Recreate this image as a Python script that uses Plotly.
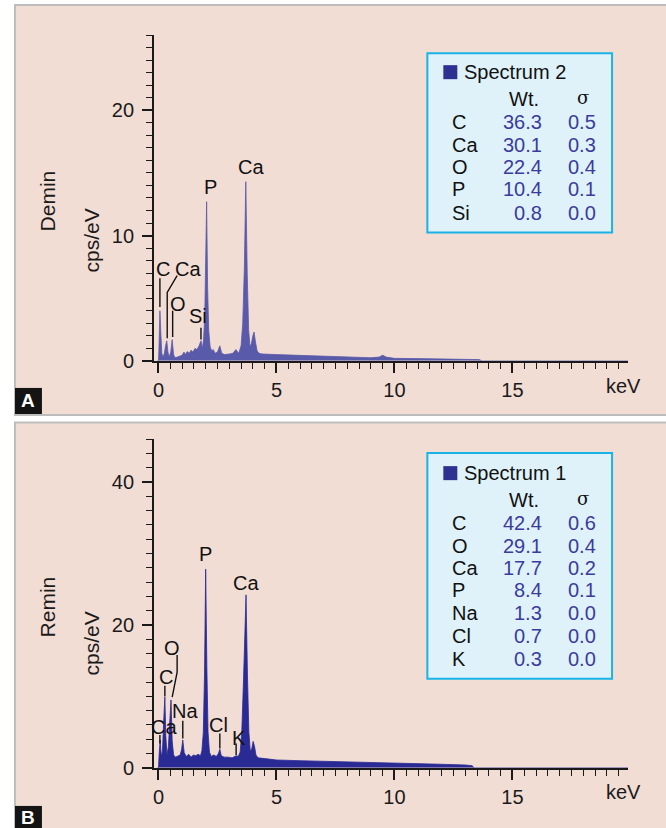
import plotly.graph_objects as go

W, H = 666, 828          # design frame (reference pixels)
FIG_H = 841              # rendered height; the capture is ~841 px tall and scaled to 828

# ---------------- data ----------------
# Panel A (Demin): energy (keV) and intensity (cps/eV)
energy_a = [-0.05, 0.00, 0.02, 0.06, 0.10, 0.14, 0.19, 0.25, 0.30, 0.35, 0.40, 0.45, 0.52,
            0.58, 0.64, 0.70, 0.80, 0.90, 1.00, 1.08, 1.14, 1.22, 1.30, 1.38, 1.46, 1.55,
            1.63, 1.72, 1.80, 1.86, 1.91, 1.96, 2.00, 2.04, 2.08, 2.13, 2.19, 2.26, 2.32,
            2.40, 2.50, 2.60, 2.68, 2.80, 3.00, 3.15, 3.28, 3.40, 3.50, 3.57, 3.64, 3.70,
            3.76, 3.82, 3.88, 3.94, 4.00, 4.05, 4.11, 4.18, 4.26, 4.40, 5.00, 6.00, 7.00,
            8.00, 9.00, 9.35, 9.50, 9.65, 10.00, 11.00, 12.00, 13.00, 13.60, 13.70, 19.90]
counts_a = [0.0, 0.0, 1.0, 4.0, 2.2, 0.6, 0.3, 0.6, 1.2, 1.6, 0.7, 0.3, 0.7,
            1.7, 0.5, 0.25, 0.3, 0.4, 0.45, 0.7, 0.5, 0.75, 0.6, 0.85, 0.7, 1.0,
            0.9, 1.2, 1.6, 1.0, 1.7, 3.5, 7.0, 12.7, 6.0, 2.4, 1.1, 0.8, 0.9,
            0.6, 0.7, 1.2, 0.6, 0.5, 0.55, 0.6, 0.9, 0.6, 1.2, 3.0, 7.5, 14.3,
            7.0, 2.5, 1.1, 1.4, 2.0, 2.3, 1.5, 0.8, 0.6, 0.55, 0.5, 0.45, 0.35,
            0.3, 0.25, 0.3, 0.45, 0.3, 0.2, 0.18, 0.15, 0.12, 0.1, 0.0, 0.0]

# Panel B (Remin)
energy_b = [-0.05, 0.00, 0.03, 0.07, 0.12, 0.17, 0.22, 0.27, 0.31, 0.36, 0.42, 0.47, 0.53,
            0.58, 0.64, 0.72, 0.82, 0.92, 0.98, 1.03, 1.09, 1.18, 1.28, 1.38, 1.48, 1.58,
            1.68, 1.78, 1.84, 1.90, 1.95, 2.00, 2.05, 2.10, 2.16, 2.24, 2.34, 2.45, 2.54,
            2.60, 2.66, 2.78, 2.95, 3.12, 3.30, 3.38, 3.46, 3.53, 3.60, 3.66, 3.71, 3.77,
            3.83, 3.89, 3.95, 4.01, 4.07, 4.13, 4.22, 4.50, 5.00, 6.00, 7.00, 8.00, 9.00,
            10.00, 11.00, 12.00, 13.00, 13.30, 13.36, 19.90]
counts_b = [0.0, 0.0, 2.0, 3.9, 1.5, 2.5, 6.5, 9.9, 4.5, 1.8, 3.0, 6.5, 9.5,
            3.8, 1.8, 1.5, 1.6, 1.8, 2.6, 3.9, 2.1, 1.6, 1.9, 1.5, 1.8, 1.7,
            1.9, 1.7, 2.4, 5.0, 13.0, 27.8, 14.0, 5.0, 2.2, 1.6, 1.8, 1.6, 2.0,
            2.6, 1.7, 1.5, 1.5, 1.4, 1.7, 1.6, 2.2, 5.0, 12.0, 20.0, 24.2, 13.0,
            5.0, 2.4, 2.6, 3.7, 3.0, 1.8, 1.4, 1.3, 1.1, 1.0, 0.9, 0.85, 0.8,
            0.7, 0.6, 0.5, 0.4, 0.3, 0.0, 0.0]

x_tick_vals = [0, 5, 10, 15, 20]
x_tick_text = ["0", "5", "10", "15", ""]
y_tick_vals_a = [0, 10, 20]
y_tick_vals_b = [0, 20, 40]

# quantification tables
spectrum_a_name = "Spectrum 2"
elements_a = ["C", "Ca", "O", "P", "Si"]
wt_a = ["36.3", "30.1", "22.4", "10.4", "0.8"]
sigma_a = ["0.5", "0.3", "0.4", "0.1", "0.0"]

spectrum_b_name = "Spectrum 1"
elements_b = ["C", "O", "Ca", "P", "Na", "Cl", "K"]
wt_b = ["42.4", "29.1", "17.7", "8.4", "1.3", "0.7", "0.3"]
sigma_b = ["0.6", "0.4", "0.2", "0.1", "0.0", "0.0", "0.0"]

# peak labels: (text, x keV, y cps/eV)
peak_labels_a = [("C", 0.17, 7.36), ("Ca", 1.27, 7.36), ("O", 0.83, 4.56),
                 ("Si", 1.68, 3.6), ("P", 2.2, 13.9), ("Ca", 3.9, 15.5)]
leaders_a = [[(0.06, 6.6), (0.06, 4.3)],
             [(0.79, 6.8), (0.37, 5.46), (0.37, 1.8)],
             [(0.60, 4.0), (0.60, 1.9)],
             [(1.80, 2.64), (1.80, 1.7)]]
peak_labels_b = [("O", 0.58, 16.8), ("C", 0.30, 12.7), ("Na", 1.14, 8.0),
                 ("Ca", 0.25, 5.7), ("Cl", 2.56, 6.0), ("K", 3.43, 4.2),
                 ("P", 1.99, 29.9), ("Ca", 3.69, 25.8)]
leaders_b = [[(0.79, 15.8), (0.79, 13.4), (0.58, 9.9)],
             [(0.27, 11.5), (0.27, 10.0)],
             [(1.03, 6.6), (1.03, 4.1)],
             [(0.06, 4.6), (0.06, 3.4)],
             [(2.60, 4.8), (2.60, 2.7)],
             [(3.29, 3.4), (3.29, 1.8)]]

# ---------------- helpers ----------------
def fx(x):
    return x / W

def fy(y):
    return 1 - y / H

FONT = "Liberation Sans, Arial, sans-serif"
PINK = "#f2ddd5"
GRAY = "#bdbdbd"
COL_A = "#5a5aaa"
COL_B = "#2a2a94"
LEG_SQ = "#2e3192"
VAL_COL = "#3b3b9c"
FS = 20

fig = go.Figure()
fig.add_trace(go.Scatter(x=energy_a, y=counts_a, mode="lines", fill="tozeroy",
                         line=dict(color=COL_A, width=0.8), fillcolor=COL_A,
                         xaxis="x", yaxis="y", showlegend=False, hoverinfo="skip"))
fig.add_trace(go.Scatter(x=energy_b, y=counts_b, mode="lines", fill="tozeroy",
                         line=dict(color=COL_B, width=0.8), fillcolor=COL_B,
                         xaxis="x2", yaxis="y2", showlegend=False, hoverinfo="skip"))

def xax(anchor):
    return dict(domain=[fx(153), fx(628)], range=[-0.2, 19.9], anchor=anchor,
                showline=True, linecolor="#1a1a1a", linewidth=1.5, mirror=False,
                ticks="outside", ticklen=10, tickwidth=1.5, tickcolor="#1a1a1a",
                tickvals=x_tick_vals, ticktext=x_tick_text,
                tickfont=dict(family=FONT, size=FS, color="#1a1a1a"),
                showgrid=False, zeroline=False, fixedrange=True,
                minor=dict(dtick=0.5, tick0=0, ticks="outside", ticklen=6,
                           tickwidth=1.2, tickcolor="#1a1a1a", showgrid=False))

def yax(anchor, dom, rng, tv, mdt):
    return dict(domain=dom, range=rng, anchor=anchor,
                showline=True, linecolor="#1a1a1a", linewidth=1.5,
                ticks="outside", ticklen=10, tickwidth=1.5, tickcolor="#1a1a1a",
                tickvals=tv, tickfont=dict(family=FONT, size=FS, color="#1a1a1a"),
                ticklabelstandoff=4,
                showgrid=False, zeroline=False, fixedrange=True,
                minor=dict(dtick=mdt, tick0=0, ticks="outside", ticklen=6,
                           tickwidth=1.2, tickcolor="#1a1a1a", showgrid=False))

shapes = []
annotations = []

def prect(x0, y0, x1, y1, color, layer="below"):
    shapes.append(dict(type="rect", xref="paper", yref="paper", x0=fx(x0), x1=fx(x1),
                       y0=fy(y1), y1=fy(y0), fillcolor=color, line=dict(width=0),
                       layer=layer))

# panel backgrounds and gray frame lines
prect(13, 4, 666, 415, GRAY)
prect(15, 6, 666, 413, PINK)
prect(13, 420.5, 666, 828, GRAY)
prect(15, 422.5, 666, 828, PINK)

# panel letters
for letter, ytop, ybot in (("A", 387, 413), ("B", 804, 828)):
    prect(14, ytop, 41, ybot, "#141414", layer="above")
    annotations.append(dict(text="<b>%s</b>" % letter, xref="paper", yref="paper",
                            x=fx(27.5), y=fy((ytop + ybot) / 2), showarrow=False,
                            font=dict(family=FONT, size=19, color="white"),
                            xanchor="center", yanchor="middle"))

# axis titles
for name, yc, yc2 in (("Demin", 200, 240), ("Remin", 605, 642)):
    annotations.append(dict(text=name, xref="paper", yref="paper", x=fx(47), y=fy(yc),
                            textangle=-90, showarrow=False, xanchor="center", yanchor="middle",
                            font=dict(family=FONT, size=21, color="#1a1a1a")))
    annotations.append(dict(text="cps/eV", xref="paper", yref="paper", x=fx(91), y=fy(yc2),
                            textangle=-90, showarrow=False, xanchor="center", yanchor="middle",
                            font=dict(family=FONT, size=21, color="#1a1a1a")))

# keV labels
for ykev in (385, 790):
    annotations.append(dict(text="keV", xref="paper", yref="paper", x=fx(623), y=fy(ykev),
                            showarrow=False, xanchor="center", yanchor="middle",
                            font=dict(family=FONT, size=FS, color="#1a1a1a")))

# peak labels and leaders
for labels, leaders, xr, yr in ((peak_labels_a, leaders_a, "x", "y"),
                                (peak_labels_b, leaders_b, "x2", "y2")):
    for txt, xv, yv in labels:
        annotations.append(dict(text=txt, x=xv, y=yv, xref=xr, yref=yr, showarrow=False,
                                xanchor="center", yanchor="middle",
                                font=dict(family=FONT, size=FS, color="#111111")))
    for pts in leaders:
        path = "M " + " L ".join("%g,%g" % p for p in pts)
        shapes.append(dict(type="path", path=path, xref=xr, yref=yr,
                           line=dict(color="#111111", width=1.4), layer="above"))

# quantification boxes
def table(top, bottom, name, elems, wts, sigs, y_title, y_head, y_rows):
    shapes.append(dict(type="rect", xref="paper", yref="paper", x0=fx(427), x1=fx(612),
                       y0=fy(bottom), y1=fy(top), fillcolor="#dff2fa",
                       line=dict(color="#18b4e6", width=2), layer="above"))
    prect(443, y_title - 7, 457, y_title + 7, LEG_SQ, layer="above")
    annotations.append(dict(text=name, xref="paper", yref="paper", x=fx(462), y=fy(y_title),
                            showarrow=False, xanchor="left", yanchor="middle",
                            font=dict(family=FONT, size=FS, color="#111111")))
    annotations.append(dict(text="Wt.", xref="paper", yref="paper", x=fx(524), y=fy(y_head),
                            showarrow=False, xanchor="center", yanchor="middle",
                            font=dict(family=FONT, size=FS, color="#111111")))
    annotations.append(dict(text="σ", xref="paper", yref="paper", x=fx(583), y=fy(y_head - 2),
                            showarrow=False, xanchor="center", yanchor="middle",
                            font=dict(family="DejaVu Serif, serif", size=18, color="#111111")))
    for i, (e, w, s) in enumerate(zip(elems, wts, sigs)):
        yy = fy(y_rows[i])
        annotations.append(dict(text=e, xref="paper", yref="paper", x=fx(450), y=yy,
                                showarrow=False, xanchor="left", yanchor="middle",
                                font=dict(family=FONT, size=FS, color="#111111")))
        annotations.append(dict(text=w, xref="paper", yref="paper", x=fx(544), y=yy,
                                showarrow=False, xanchor="right", yanchor="middle",
                                font=dict(family=FONT, size=FS, color=VAL_COL)))
        annotations.append(dict(text=s, xref="paper", yref="paper", x=fx(598), y=yy,
                                showarrow=False, xanchor="right", yanchor="middle",
                                font=dict(family=FONT, size=FS, color=VAL_COL)))

table(53, 232, spectrum_a_name, elements_a, wt_a, sigma_a, 72, 99,
      [122, 145, 167, 189, 212])
table(452, 677, spectrum_b_name, elements_b, wt_b, sigma_b, 472, 499,
      [522, 545, 567, 589, 612, 634, 657])

fig.update_layout(
    width=W, height=FIG_H, margin=dict(l=0, r=0, t=0, b=0),
    paper_bgcolor="white", plot_bgcolor="white",
    showlegend=False,
    xaxis=xax("y"),
    yaxis=yax("x", [fy(360), fy(35)], [0, 26], y_tick_vals_a, 1),
    xaxis2=xax("y2"),
    yaxis2=yax("x2", [fy(766), fy(438)], [0, 46], y_tick_vals_b, 2),
    shapes=shapes, annotations=annotations,
)

post = (
    "document.body.style.margin='0';"
    "document.body.style.padding='0';"
)

fig.write_html("out.html", config={"displayModeBar": False}, post_script=post)
